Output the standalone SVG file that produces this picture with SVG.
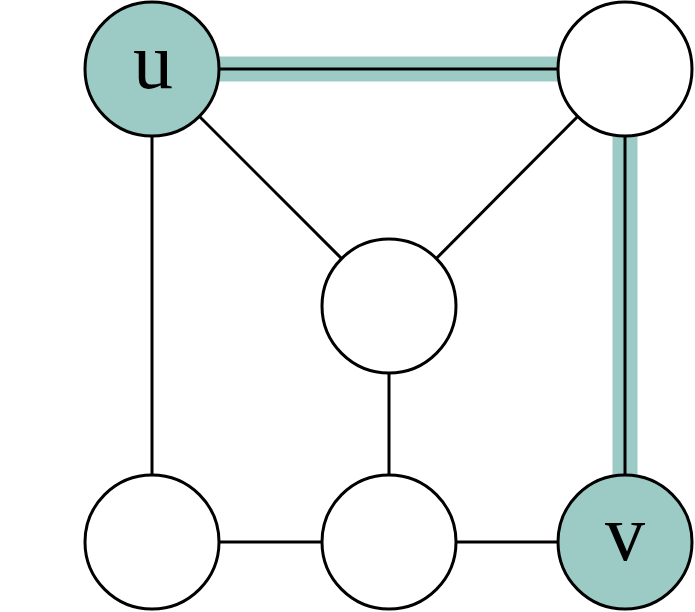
<svg xmlns="http://www.w3.org/2000/svg" width="695" height="612" viewBox="0 0 695 612">
<style>
.e{stroke:#000;stroke-width:3;fill:none}
.h{stroke:#9ccbc6;stroke-width:25;fill:none}
.n{stroke:#000;stroke-width:3;fill:#fff}
.f{fill:#9ccbc6}
.t{font-family:"Liberation Serif","DejaVu Serif",serif;font-size:80px;text-anchor:middle;fill:#000}
</style>
<rect width="695" height="612" fill="#fff"/>
<g id="connectors">
<line class="h" x1="152" y1="69" x2="625" y2="69"/>
<line class="h" x1="625" y1="69" x2="625" y2="542"/>
<line class="e" x1="152" y1="69" x2="625" y2="69"/>
<line class="e" x1="625" y1="69" x2="625" y2="542"/>
<line class="e" x1="152" y1="69" x2="389" y2="306"/>
<line class="e" x1="625" y1="69" x2="389" y2="306"/>
<line class="e" x1="389" y1="306" x2="389" y2="542"/>
<line class="e" x1="152" y1="69" x2="152" y2="542"/>
<line class="e" x1="152" y1="542" x2="625" y2="542"/>
</g>
<g id="u"><circle class="n f" cx="152" cy="69" r="67"/><text class="t" x="153" y="88">u</text></g>
<g id="tr"><circle class="n" cx="625" cy="69" r="67"/></g>
<g id="c"><circle class="n" cx="389" cy="306" r="67"/></g>
<g id="bl"><circle class="n" cx="152" cy="542" r="67"/></g>
<g id="bm"><circle class="n" cx="389" cy="542" r="67"/></g>
<g id="v"><circle class="n f" cx="625" cy="542" r="67"/><text class="t" x="625" y="560">v</text></g>
</svg>
